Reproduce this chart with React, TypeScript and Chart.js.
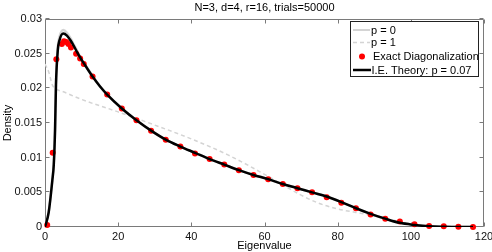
import React, { useEffect, useRef } from 'react';
import { Chart, registerables } from 'chart.js';

Chart.register(...registerables);

const titleText = 'N=3, d=4, r=16, trials=50000';
const xLabel = 'Eigenvalue';
const yLabel = 'Density';
const xTicks = [0, 20, 40, 60, 80, 100, 120];
const yTicks = [0, 0.005, 0.01, 0.015, 0.02, 0.025, 0.03];

const legendLabels = ['p = 0', 'p = 1', 'Exact Diagonalization', 'I.E. Theory: p = 0.07'];

// Exact diagonalization (red dots)
const exactX = [0.6, 2.1, 3.1, 4.6, 5.2, 5.8, 6.4, 7.1, 8.5, 9.6, 10.6, 13, 17, 21, 25, 29, 33, 37, 41, 45, 49, 53, 57, 61, 65, 69, 73, 77, 81, 85, 89, 93, 97, 101, 105, 109, 113, 117];
const exactY = [0.0003, 0.0107, 0.0242, 0.0264, 0.0268, 0.0267, 0.0264, 0.0259, 0.025, 0.0243, 0.0235, 0.0217, 0.0191, 0.0171, 0.0154, 0.0139, 0.0126, 0.0116, 0.0106, 0.0098, 0.009, 0.0082, 0.0075, 0.0069, 0.0062, 0.0056, 0.005, 0.0043, 0.0035, 0.0027, 0.0018, 0.0012, 0.0008, 0.0004, 0.00015, 0.0001, 0.00005, 0];

// I.E. theory p = 0.07 (black)
const theoryX = [0, 1, 2, 2.4, 2.75, 3, 3.5, 4, 5, 6, 7, 8, 9, 10, 11, 13, 15, 17, 21, 25, 29, 33, 37, 41, 45, 49, 53, 57, 61, 65, 69, 73, 77, 81, 85, 89, 93, 97, 101, 105, 109, 113, 117];
const theoryY = [0, 0.0021, 0.0067, 0.009, 0.014, 0.0205, 0.0255, 0.027, 0.0279, 0.0276, 0.0269, 0.026, 0.025, 0.0241, 0.0233, 0.0217, 0.0203, 0.0191, 0.0171, 0.0154, 0.0139, 0.0126, 0.0116, 0.0107, 0.0098, 0.009, 0.0082, 0.0075, 0.0069, 0.0062, 0.0056, 0.005, 0.0044, 0.0036, 0.0027, 0.0019, 0.0012, 0.0006, 0.0003, 0.0001, 0.00003, 0, 0];

// p = 0 (light gray solid)
const p0X = [0, 1, 2, 2.4, 2.75, 3, 3.5, 4, 5, 6, 7, 8, 9, 10, 11, 13, 15, 17, 21, 25, 29, 33, 37, 41, 45, 49, 53, 57, 61, 65, 69, 73, 77, 81, 85, 89, 93, 97, 101, 105, 109, 113, 117];
const p0Y = [0, 0.0022, 0.0069, 0.0093, 0.0145, 0.021, 0.026, 0.0275, 0.0284, 0.028, 0.0272, 0.0262, 0.0252, 0.0242, 0.0234, 0.0218, 0.0203, 0.0191, 0.0171, 0.0154, 0.0139, 0.0126, 0.0116, 0.0107, 0.0098, 0.009, 0.0082, 0.0075, 0.0069, 0.0062, 0.0056, 0.005, 0.0044, 0.0036, 0.0027, 0.0019, 0.0012, 0.0006, 0.0003, 0.0001, 0.00003, 0, 0];

// p = 1 (light gray dashed)
const p1X = [0, 1, 2, 3, 5, 10, 20, 30, 40, 50, 60, 65, 70, 75, 80, 85, 90, 95, 100, 105, 110, 117];
const p1Y = [0.0235, 0.0224, 0.0205, 0.0199, 0.0195, 0.0184, 0.0166, 0.0147, 0.0127, 0.0104, 0.0076, 0.0061, 0.0046, 0.0034, 0.0026, 0.0021, 0.0016, 0.001, 0.0004, 0.0001, 0, 0];

const FONT = '"Liberation Sans", Arial, Helvetica, sans-serif';
const GRAY_LINE = '#d4d4d4';
const AXIS = '#7a7a7a';

const zip = (xs: number[], ys: number[]) => xs.map((x, i) => ({ x, y: ys[i] }));

const framePlugin = {
  id: 'matlabFrame',
  beforeDatasetsDraw(chart: any) {
    const { ctx, chartArea: a, scales } = chart;
    ctx.save();
    ctx.strokeStyle = AXIS;
    ctx.lineWidth = 1;
    const L = a.left + 0.5, R = a.right - 0.5, T = a.top + 0.5, B = a.bottom - 0.5;
    ctx.beginPath();
    ctx.moveTo(L, T); ctx.lineTo(R, T); ctx.lineTo(R, B); ctx.lineTo(L, B); ctx.closePath();
    const tl = 4;
    for (const v of xTicks) {
      const px = Math.round(scales.x.getPixelForValue(v)) + 0.5;
      ctx.moveTo(px, B); ctx.lineTo(px, B - tl);
      ctx.moveTo(px, T); ctx.lineTo(px, T + tl);
    }
    for (const v of yTicks) {
      const py = Math.round(scales.y.getPixelForValue(v)) - 0.5;
      ctx.moveTo(L, py); ctx.lineTo(L + tl, py);
      ctx.moveTo(R, py); ctx.lineTo(R - tl, py);
    }
    ctx.stroke();
    ctx.restore();
  },
  afterDraw(chart: any) {
    const { ctx, chartArea: a } = chart;
    ctx.save();
    ctx.font = `11px ${FONT}`;
    ctx.fillStyle = '#000';
    ctx.textBaseline = 'alphabetic';
    ctx.textAlign = 'center';
    const cx = (a.left + a.right) / 2;
    ctx.fillText(titleText, cx, 11);
    ctx.fillText(xLabel, cx, 249);
    ctx.save();
    ctx.translate(8, (a.top + a.bottom) / 2);
    ctx.rotate(-Math.PI / 2);
    ctx.textBaseline = 'middle';
    ctx.fillText(yLabel, 0, 0);
    ctx.restore();

    // legend
    const bx = 350.5, by = 21.5, bw = 128, bh = 55;
    ctx.fillStyle = '#fff';
    ctx.fillRect(bx, by, bw, bh);
    ctx.strokeStyle = '#222';
    ctx.lineWidth = 1;
    ctx.strokeRect(bx, by, bw, bh);
    const rows = [30, 42.5, 56.5, 70];
    const lx0 = 353, lx1 = 370;
    // p = 0
    ctx.strokeStyle = GRAY_LINE; ctx.lineWidth = 2;
    ctx.beginPath(); ctx.moveTo(lx0, rows[0]); ctx.lineTo(lx1, rows[0]); ctx.stroke();
    // p = 1
    ctx.setLineDash([4, 3]); ctx.lineWidth = 1.5;
    ctx.beginPath(); ctx.moveTo(lx0, rows[1]); ctx.lineTo(lx1, rows[1]); ctx.stroke();
    ctx.setLineDash([]);
    // exact
    ctx.fillStyle = '#ff0000';
    ctx.beginPath(); ctx.arc(362, rows[2], 3, 0, Math.PI * 2); ctx.fill();
    // theory
    ctx.strokeStyle = '#000'; ctx.lineWidth = 2.5;
    ctx.beginPath(); ctx.moveTo(lx0, rows[3]); ctx.lineTo(lx1 + 1, rows[3]); ctx.stroke();

    ctx.fillStyle = '#000';
    ctx.textAlign = 'left';
    ctx.textBaseline = 'middle';
    const tx = [371, 371, 373, 371.5];
    legendLabels.forEach((t, i) => ctx.fillText(t, tx[i], rows[i] + 0.5));
    ctx.restore();
  },
};

export default function App() {
  const ref = useRef<HTMLCanvasElement | null>(null);
  useEffect(() => {
    if (!ref.current) return;
    const chart = new Chart(ref.current, {
      type: 'line',
      data: {
        datasets: [
          {
            label: legendLabels[3],
            data: zip(theoryX, theoryY),
            borderColor: '#000',
            borderWidth: 2.5,
            pointRadius: 0,
            cubicInterpolationMode: 'monotone',
            fill: false,
          },
          {
            label: legendLabels[2],
            data: zip(exactX, exactY),
            showLine: false,
            pointRadius: 3,
            pointBackgroundColor: '#ff0000',
            pointBorderColor: '#ff0000',
            pointBorderWidth: 0,
            backgroundColor: '#ff0000',
            borderColor: '#ff0000',
            clip: false as any,
          },
          {
            label: legendLabels[1],
            data: zip(p1X, p1Y),
            borderColor: GRAY_LINE,
            borderWidth: 1.5,
            borderDash: [4, 3],
            pointRadius: 0,
            cubicInterpolationMode: 'monotone',
            fill: false,
          },
          {
            label: legendLabels[0],
            data: zip(p0X, p0Y),
            borderColor: GRAY_LINE,
            borderWidth: 2.5,
            pointRadius: 0,
            cubicInterpolationMode: 'monotone',
            fill: false,
          },
        ],
      },
      options: {
        animation: false,
        responsive: false,
        devicePixelRatio: 1,
        layout: { padding: { top: 19, right: 8, left: 0, bottom: 0 } },
        plugins: { legend: { display: false }, tooltip: { enabled: false }, title: { display: false } },
        scales: {
          x: {
            type: 'linear',
            min: 0,
            max: 120,
            grid: { display: false, drawTicks: false },
            border: { display: false },
            ticks: {
              stepSize: 20,
              autoSkip: false,
              maxRotation: 0,
              padding: 3,
              color: '#111',
              font: { family: FONT, size: 11 },
            },
            afterFit(scale: any) {
              scale.height = 25;
              scale.paddingLeft = 0;
              scale.paddingRight = 0;
            },
          },
          y: {
            type: 'linear',
            min: 0,
            max: 0.03,
            grid: { display: false, drawTicks: false },
            border: { display: false },
            ticks: {
              stepSize: 0.005,
              autoSkip: false,
              padding: 3,
              color: '#111',
              font: { family: FONT, size: 11 },
              callback: (v: any) => String(parseFloat(Number(v).toFixed(4))),
            },
            afterFit(scale: any) {
              scale.width = 45;
              scale.paddingTop = 0;
              scale.paddingBottom = 0;
            },
          },
        },
      },
      plugins: [framePlugin],
    });
    return () => chart.destroy();
  }, []);
  return (
    <div style={{ position: 'fixed', left: 0, top: 0, width: 492, height: 252, background: '#fff' }}>
      <canvas ref={ref} width={492} height={252} style={{ display: 'block', width: 492, height: 252 }} />
    </div>
  );
}
